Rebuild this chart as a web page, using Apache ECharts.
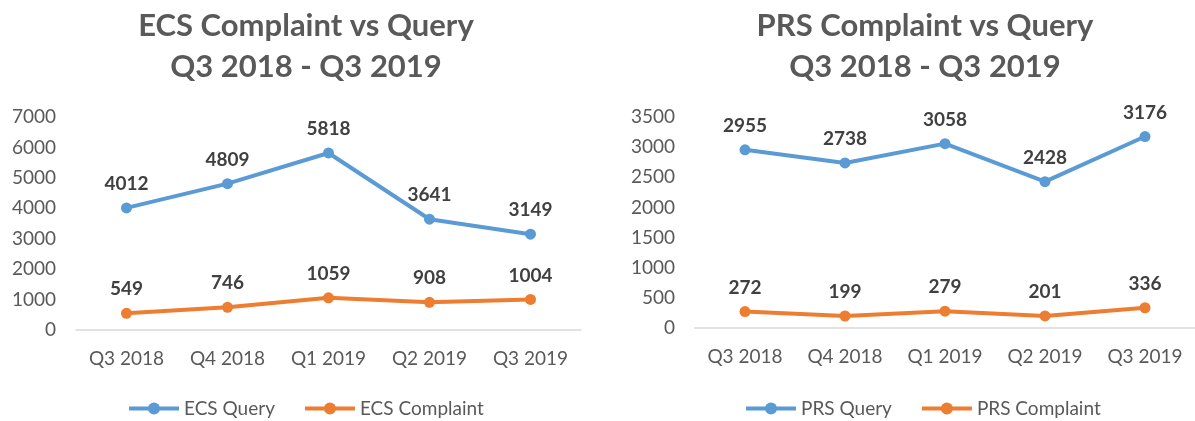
<!DOCTYPE html>
<html>
<head>
<meta charset="utf-8">
<script src="https://cdn.jsdelivr.net/npm/echarts@6/dist/echarts.min.js"></script>
<style>
  html, body { margin: 0; padding: 0; background: #fff; }
  #main { width: 1195px; height: 421px; }
</style>
</head>
<body>
<div id="main"></div>
<script>
var quarters = ['Q3 2018', 'Q4 2018', 'Q1 2019', 'Q2 2019', 'Q3 2019'];
var ecsQuery = [4012, 4809, 5818, 3641, 3149];
var ecsComplaint = [549, 746, 1059, 908, 1004];
var prsQuery = [2955, 2738, 3058, 2428, 3176];
var prsComplaint = [272, 199, 279, 201, 336];

var BLUE = '#5B9BD5';
var ORANGE = '#ED7D31';
var FONT = 'Lato, "Open Sans", sans-serif';

var myChart = echarts.init(document.getElementById('main'));

function lineSeries(name, data, color, idx) {
    return {
        name: name,
        type: 'line',
        xAxisIndex: idx,
        yAxisIndex: idx,
        data: data,
        symbol: 'circle',
        symbolSize: 11,
        lineStyle: { color: color, width: 4 },
        itemStyle: { color: color },
        label: {
            show: true,
            position: 'top',
            distance: 9,
            color: '#404040',
            fontWeight: 'bold',
            fontSize: 19,
            fontFamily: FONT
        },
        animation: false
    };
}

function xAxis(idx) {
    return {
        type: 'category',
        gridIndex: idx,
        data: quarters,
        axisLine: { lineStyle: { color: '#d9d9d9', width: 1.5 } },
        axisTick: { show: false },
        axisLabel: { color: '#595959', fontSize: 19, fontFamily: FONT, margin: 19 }
    };
}

function yAxis(idx, max, interval) {
    return {
        type: 'value',
        gridIndex: idx,
        min: 0,
        max: max,
        interval: interval,
        axisLine: { show: false },
        axisTick: { show: false },
        splitLine: { show: false },
        axisLabel: {
            color: '#595959', fontSize: 19, fontFamily: FONT, margin: 20,
            formatter: function (v) { return String(v); }
        }
    };
}

var titleStyle = {
    color: '#595959',
    fontSize: 31,
    fontWeight: 'bold',
    fontFamily: FONT,
    lineHeight: 41
};

var legendText = { color: '#595959', fontSize: 19, fontFamily: FONT };

option = {
    backgroundColor: '#fff',
    title: [
        { text: 'ECS Complaint vs Query\nQ3 2018 - Q3 2019', left: 301, top: 0, textAlign: 'center', textStyle: titleStyle },
        { text: 'PRS Complaint vs Query\nQ3 2018 - Q3 2019', left: 920, top: 0, textAlign: 'center', textStyle: titleStyle }
    ],
    legend: [
        { data: ['ECS Query', 'ECS Complaint'], left: 122, top: 394, itemWidth: 50, itemHeight: 15, itemGap: 28,
          lineStyle: { width: 4 }, textStyle: legendText },
        { data: ['PRS Query', 'PRS Complaint'], left: 739, top: 394, itemWidth: 50, itemHeight: 15, itemGap: 28,
          lineStyle: { width: 4 }, textStyle: legendText }
    ],
    grid: [
        { left: 76, top: 117, width: 505, height: 213 },
        { left: 695, top: 117, width: 503, height: 211 }
    ],
    xAxis: [xAxis(0), xAxis(1)],
    yAxis: [yAxis(0, 7000, 1000), yAxis(1, 3500, 500)],
    series: [
        lineSeries('ECS Query', ecsQuery, BLUE, 0),
        lineSeries('ECS Complaint', ecsComplaint, ORANGE, 0),
        lineSeries('PRS Query', prsQuery, BLUE, 1),
        lineSeries('PRS Complaint', prsComplaint, ORANGE, 1)
    ]
};
option && myChart.setOption(option);
</script>
</body>
</html>
